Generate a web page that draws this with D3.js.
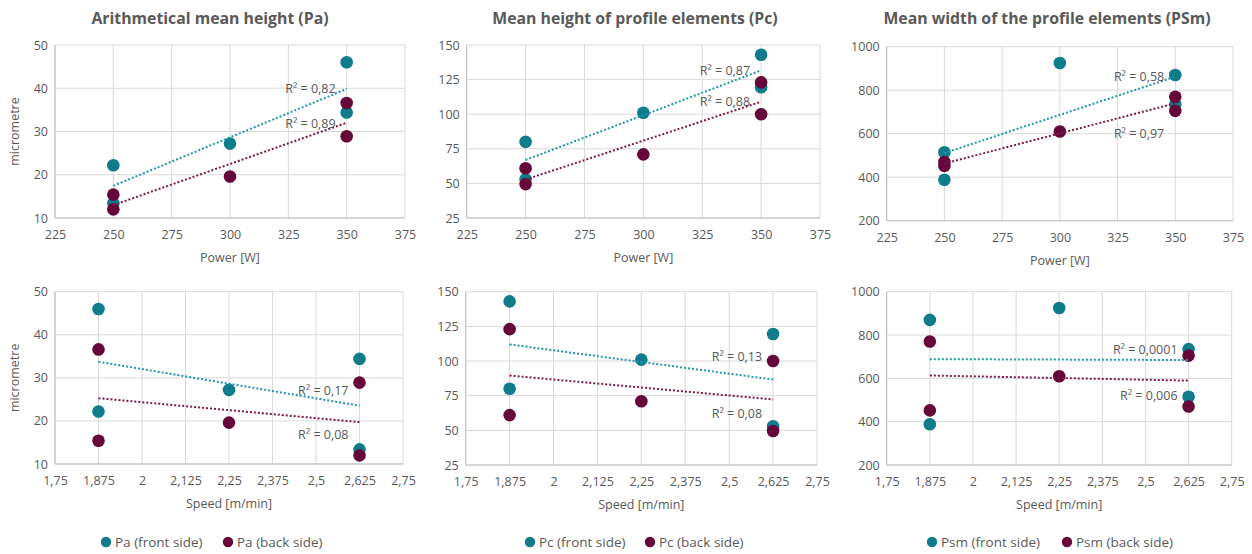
<!DOCTYPE html>
<html><head><meta charset="utf-8">
<script src="https://cdn.jsdelivr.net/npm/d3@7"></script>
<style>
body{margin:0;background:#fff;}
text{font-family:"Open Sans",sans-serif;fill:#595959;}
</style></head>
<body><svg id="c" width="1252" height="554"></svg>
<script>
// ---- data ----
const power = [250, 250, 300, 350, 350];
const speed = [2.625, 1.875, 2.25, 1.875, 2.625];
const paFront = [13.4, 22.2, 27.2, 46.0, 34.4];
const paBack  = [12.0, 15.4, 19.6, 36.6, 28.9];
const pcFront = [53, 80, 101, 143, 119.5];
const pcBack  = [49.5, 61, 71, 123, 100];
const psmFront = [515, 388, 925, 870, 735];
const psmBack  = [470, 452, 610, 770, 705];
const powerTicks = [225, 250, 275, 300, 325, 350, 375];
const speedTicks = [1.75, 1.875, 2, 2.125, 2.25, 2.375, 2.5, 2.625, 2.75];
const paTicks = [10, 20, 30, 40, 50];
const pcTicks = [25, 50, 75, 100, 125, 150];
const psmTicks = [200, 400, 600, 800, 1000];
const titles = ["Arithmetical mean height (Pa)", "Mean height of profile elements (Pc)", "Mean width of the profile elements (PSm)"];
const legendLabels = [["Pa (front side)", "Pa (back side)"], ["Pc (front side)", "Pc (back side)"], ["Psm (front side)", "Psm (back side)"]];
const r2Power = [["R² = 0,82", "R² = 0,89"], ["R² = 0,87", "R² = 0,88"], ["R² = 0,58", "R² = 0,97"]];
const r2Speed = [["R² = 0,17", "R² = 0,08"], ["R² = 0,13", "R² = 0,08"], ["R² = 0,0001", "R² = 0,006"]];

// ---- styles / layout ----
const cFront = "#0e7c8b", cBack = "#66073a";
const tFront = "#1f97a8", tBack = "#7a1a4a";
const svg = d3.select("#c");
const fmt = v => String(v).replace(".", ",");

const metrics = [
  {front: paFront, back: paBack, ticks: paTicks, ylabel: true},
  {front: pcFront, back: pcBack, ticks: pcTicks, ylabel: false},
  {front: psmFront, back: psmBack, ticks: psmTicks, ylabel: false}
];
const topBox = [[55, 405, 45, 218], [466.7, 820, 45, 218], [886.7, 1233, 46.7, 220.7]];
const botBox = [[55, 403, 291.7, 464], [465.7, 817, 291.7, 465], [886.7, 1231.7, 291.7, 465]];
const titleX = [210, 635, 1047];
// label vertical offsets relative to trendline end (px)
const topLabelDy = [[0, 1], [0, 0], [0, 30]];
const botLabelDy = [[-15, 12], [-23, 14], [-11, 15]];

function fit(xs, ys) {
  const mx = d3.mean(xs), my = d3.mean(ys);
  let sxy = 0, sxx = 0;
  xs.forEach((x, i) => { sxy += (x - mx) * (ys[i] - my); sxx += (x - mx) ** 2; });
  const b = sxy / sxx; return x => my + b * (x - mx);
}

function panel(box, xs, m, xTicks, xTitle, r2, labelDy) {
  const [l, r, t, b] = box;
  const x = d3.scaleLinear().domain([xTicks[0], xTicks[xTicks.length - 1]]).range([l, r]);
  const y = d3.scaleLinear().domain([m.ticks[0], m.ticks[m.ticks.length - 1]]).range([b, t]);
  const g = svg.append("g");
  g.selectAll(".gx").data(xTicks).join("line")
    .attr("x1", d => x(d)).attr("x2", d => x(d)).attr("y1", t).attr("y2", b)
    .attr("stroke", "#d9d9d9").attr("stroke-width", 1);
  g.selectAll(".gy").data(m.ticks).join("line")
    .attr("x1", l).attr("x2", r).attr("y1", d => y(d)).attr("y2", d => y(d))
    .attr("stroke", "#d9d9d9").attr("stroke-width", 1);
  g.append("line").attr("x1", l).attr("x2", r).attr("y1", b).attr("y2", b).attr("stroke", "#bfbfbf");
  g.append("line").attr("x1", l).attr("x2", l).attr("y1", t).attr("y2", b).attr("stroke", "#bfbfbf");
  const ax = g.append("g").attr("transform", `translate(0,${b})`)
    .call(d3.axisBottom(x).tickValues(xTicks).tickFormat(fmt).tickSize(0).tickPadding(12));
  ax.select(".domain").remove();
  ax.selectAll("text").attr("font-size", 12.5).attr("font-family", "Open Sans").attr("fill", "#595959");
  const ay = g.append("g").attr("transform", `translate(${l},0)`)
    .call(d3.axisLeft(y).tickValues(m.ticks).tickFormat(fmt).tickSize(0).tickPadding(7));
  ay.select(".domain").remove();
  ay.selectAll("text").attr("font-size", 12.5).attr("font-family", "Open Sans").attr("fill", "#595959");
  g.append("text").attr("x", (l + r) / 2).attr("y", b + 44).attr("text-anchor", "middle")
    .attr("font-size", 12.5).text(xTitle);
  if (m.ylabel) {
    g.append("text").attr("transform", `translate(19,${(t + b) / 2}) rotate(-90)`)
      .attr("text-anchor", "middle").attr("font-size", 12.5).text("micrometre");
  }
  [[m.front, cFront], [m.back, cBack]].forEach(([ys, c]) => {
    g.append("g").selectAll("circle").data(ys).join("circle")
      .attr("cx", (d, i) => x(xs[i])).attr("cy", d => y(d)).attr("r", 6.3).attr("fill", c);
  });
  const xmin = d3.min(xs), xmax = d3.max(xs);
  [[m.front, tFront], [m.back, tBack]].forEach(([ys, c], k) => {
    const f = fit(xs, ys);
    g.append("line").attr("x1", x(xmin)).attr("x2", x(xmax)).attr("y1", y(f(xmin))).attr("y2", y(f(xmax)))
      .attr("stroke", c).attr("stroke-width", 2).attr("stroke-dasharray", "2 2");
    g.append("text").attr("x", x(xmax) - 11).attr("y", y(f(xmax)) + labelDy[k] + 4.5)
      .attr("text-anchor", "end").attr("font-size", 12.5).text(r2[k]);
  });
}

metrics.forEach((m, i) => {
  panel(topBox[i], power, m, powerTicks, "Power [W]", r2Power[i], topLabelDy[i]);
  panel(botBox[i], speed, m, speedTicks, "Speed [m/min]", r2Speed[i], botLabelDy[i]);
  svg.append("text").attr("x", titleX[i]).attr("y", 24).attr("text-anchor", "middle")
    .attr("font-size", 15.8).attr("font-weight", "bold").text(titles[i]);
});

const legendX = [[106, 228], [530, 650], [932, 1067]];
legendLabels.forEach((labs, i) => {
  labs.forEach((lab, k) => {
    svg.append("circle").attr("cx", legendX[i][k]).attr("cy", 542).attr("r", 5.2)
      .attr("fill", k === 0 ? cFront : cBack);
    svg.append("text").attr("x", legendX[i][k] + 9).attr("y", 546.5).attr("font-size", 13.5).text(lab);
  });
});
</script></body></html>
